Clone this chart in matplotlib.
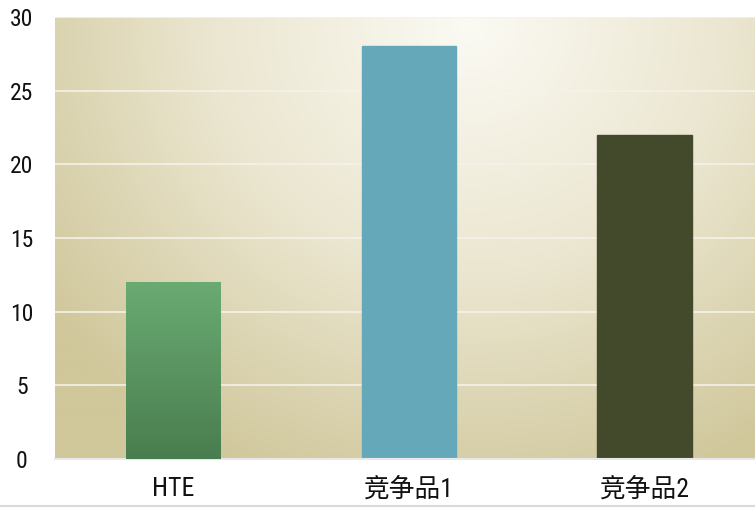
import numpy as np
import matplotlib.pyplot as plt
from matplotlib import font_manager
from matplotlib.colors import LinearSegmentedColormap

categories = ['HTE', '竞争品1', '竞争品2']
values = [12, 28, 22]
yticks = [0, 5, 10, 15, 20, 25, 30]

# pick a narrow latin font if one is installed
names = {f.name for f in font_manager.fontManager.ttflist}
narrow = [n for n in ['Liberation Sans Narrow', 'DejaVu Sans Condensed', 'Roboto Condensed']
          if n in names]
plt.rcParams['font.family'] = narrow[:1] + ['Noto Sans CJK SC', 'DejaVu Sans']

fig = plt.figure(figsize=(7.55, 5.09), dpi=100)
ax = fig.add_axes([55 / 755, 50 / 509, 700 / 755, 442 / 509])

xmin, xmax = -0.503, 2.469

# radial gradient background, worked out in pixel distance
px, py = np.meshgrid(np.linspace(55, 755, 400), np.linspace(459, 17, 300))
r = np.sqrt((px - 470) ** 2 + ((py - 25) * 1.05) ** 2)
r = np.clip(r / 520, 0, 1)
bg = LinearSegmentedColormap.from_list('bg', ['#fbfaf3', '#ebe6d0', '#d0c79b'])
ax.imshow(r, cmap=bg, extent=[xmin, xmax, 0, 30], origin='lower', aspect='auto', zorder=0)

for y in yticks[1:]:
    ax.axhline(y, color='#f4f2ea', lw=1.2, zorder=1)

x = np.arange(len(categories))
width = 0.403
bars = ax.bar(x, values, width=width, zorder=2)
# HTE gets a vertical green gradient
green = LinearSegmentedColormap.from_list('g', ['#4a7d4f', '#6aab72'])
grad = np.linspace(0, 1, 200).reshape(-1, 1)
ax.imshow(grad, cmap=green, origin='lower', aspect='auto',
          extent=[x[0] - width / 2, x[0] + width / 2, 0, values[0]], zorder=3)
bars[0].set_alpha(0)
bars[1].set_color('#65a8ba')
bars[2].set_color('#434a2c')

ax.set_xlim(xmin, xmax)
ax.set_ylim(0, 30)
ax.set_yticks(yticks)
ax.set_xticks(x)
ax.set_xticklabels(categories)
ax.tick_params(length=0, colors='#111111')
ax.tick_params(axis='x', pad=13, labelsize=18.5)
ax.tick_params(axis='y', pad=24, labelsize=17)
for lab in ax.get_yticklabels():
    lab.set_horizontalalignment('center')
for s in ['top', 'right', 'left']:
    ax.spines[s].set_visible(False)
ax.spines['bottom'].set_color('#e8e8e8')
ax.spines['bottom'].set_linewidth(1.5)

fig.add_artist(plt.Line2D([0, 1], [3 / 509, 3 / 509], color='#d9d9d9', lw=1.5))

fig.savefig('out.png', dpi=100)
